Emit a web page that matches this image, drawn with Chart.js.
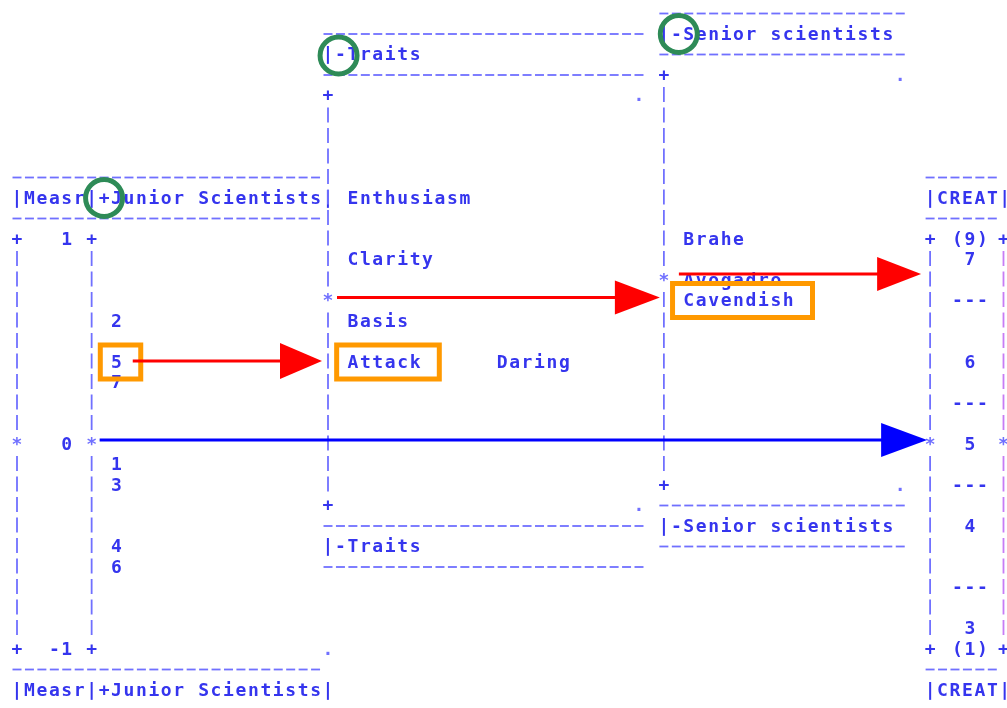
<!DOCTYPE html>
<html>
<head>
<meta charset="utf-8">
<script src="https://cdn.jsdelivr.net/npm/chart.js@4.4.0/dist/chart.umd.min.js"></script>
<style>
  body { margin: 0; background: #fff; }
  canvas { display: block; }
</style>
</head>
<body>
<canvas id="wrightMap" width="1007" height="708"></canvas>
<script>
// ---- data (logits) ----
const measrTicks = [1, 0, -1];
const juniorIds = ['1', '2', '3', '4', '5', '6', '7'];
const juniorMeasures = [-0.1, 0.6, -0.2, -0.5, 0.4, -0.6, 0.3];
const traitNames = ['Enthusiasm', 'Clarity', 'Basis', 'Attack', 'Daring'];
const traitMeasures = [0.5, 0.2, -0.1, -0.3, -0.3];
const seniorNames = ['Brahe', 'Avogadro', 'Cavendish'];
const seniorMeasures = [0.2, 0.0, -0.1];
const creatLabels = ['7', '6', '5', '4', '3'];
const creatMeasures = [0.9, 0.4, 0.0, -0.4, -0.9];
const creatThresholds = [0.7, 0.2, -0.2, -0.7];
const creatEnds = ['(9)', '(1)'];
const headerLeft = '|Measr|+Junior Scientists|';
const headerTraits = '|-Traits';
const headerSenior = '|-Senior scientists';
const headerCreat = '|CREAT|';

// ---- layout: x in character columns, y in logits (1 row = 0.1) ----
const COL0 = 17, COLW = 12.44;
const ZERO_Y = 443, PX_PER_LOGIT = 205;
const W = 1007, H = 708;
const TEXT_DY = 2;   // glyphs sit a bit low in their row

const panels = {
    left:   { from: 0,    to: 25,   shift: 0 },
    traits: { from: 25,   to: 50,   shift: 0.7 },
    senior: { from: 52,   to: 71,   shift: 0.8 },
    creat:  { from: 73.4, to: 79.3, shift: 0 }
};
const juniorCol = 8;
const traitCols = [27, 27, 27, 27, 39];
const seniorCol = 54;
const creatCol = 76.6;

const TEXT = '#3535ee';
const LINE = '#7070ff';
const FONT = 'bold 18px "DejaVu Sans Mono", "Liberation Mono", monospace';

function points(measures, cols, shift) {
    return measures.map((m, i) => ({ x: Array.isArray(cols) ? cols[i] : cols, y: m + shift }));
}

const wrightPlugin = {
    id: 'wrightPlugin',
    afterDatasetsDraw(chart) {
        const ctx = chart.ctx;
        const xs = chart.scales.x, ys = chart.scales.y;
        const px = c => xs.getPixelForValue(c);
        const py = (row, shift) => ys.getPixelForValue(shift + row / 10);

        ctx.save();
        ctx.font = FONT;
        ctx.textAlign = 'center';
        ctx.textBaseline = 'middle';

        function str(s, col, yy, color) {
            ctx.fillStyle = color || TEXT;
            for (let i = 0; i < s.length; i++) {
                if (s[i] !== ' ') ctx.fillText(s[i], px(col + i), yy + TEXT_DY);
            }
        }
        function dashes(from, to, yy) {
            ctx.strokeStyle = LINE;
            ctx.lineWidth = 1.8;
            for (let c = from; c <= to + 0.01; c++) {
                ctx.beginPath();
                ctx.moveTo(px(c) - 4.5, yy + 1);
                ctx.lineTo(px(c) + 4.5, yy + 1);
                ctx.stroke();
            }
        }
        function vline(col, shift, color) {
            for (let r = -10; r <= 10; r++) {
                const yy = py(r, shift);
                if (r === 10 || r === -10) {
                    str('+', col, yy, TEXT);
                } else if (r === 0) {
                    str('*', col, yy, LINE);
                } else {
                    ctx.strokeStyle = color || LINE;
                    ctx.lineWidth = 1.8;
                    ctx.beginPath();
                    ctx.moveTo(px(col), yy - 7.5);
                    ctx.lineTo(px(col), yy + 7.5);
                    ctx.stroke();
                }
            }
        }
        function header(p, title, lastDash) {
            const s = p.shift;
            dashes(p.from, lastDash, py(13, s));
            str(title, p.from, py(12, s));
            dashes(p.from, lastDash, py(11, s));
            dashes(p.from, lastDash, py(-11, s));
            str(title, p.from, py(-12, s));
            dashes(p.from, lastDash, py(-13, s));
        }

        // frames
        const L = panels.left, T = panels.traits, S = panels.senior, C = panels.creat;
        header(L, headerLeft, 24);
        vline(L.from, L.shift);
        vline(6, L.shift);
        str('.', 25, py(-10, 0), LINE);
        measrTicks.forEach(t => {
            const lab = String(t);
            str(lab, 4 - (lab.length - 1), py(t * 10, 0));
        });

        header(T, headerTraits, T.to);
        vline(T.from, T.shift);
        str('.', T.to, py(10, T.shift), LINE);
        str('.', T.to, py(-10, T.shift), LINE);

        header(S, headerSenior, S.to);
        vline(S.from, S.shift);
        str('.', S.to, py(10, S.shift), LINE);
        str('.', S.to, py(-10, S.shift), LINE);

        header(C, headerCreat, C.to);
        vline(C.from, C.shift);
        vline(C.to, C.shift, '#c77cf5');
        str(creatEnds[0], creatCol - 1, py(10, 0));
        str(creatEnds[1], creatCol - 1, py(-10, 0));
        creatThresholds.forEach(t => str('---', creatCol - 1, py(t * 10, 0)));

        // element labels placed by the chart's own scales
        chart.data.datasets.forEach((ds, i) => {
            chart.getDatasetMeta(i).data.forEach((el, j) => {
                str(ds.names[j], ds.data[j].x, el.y);
            });
        });

        // annotations: orange boxes
        const boxAround = (dsIndex, idx) => {
            const ds = chart.data.datasets[dsIndex];
            const el = chart.getDatasetMeta(dsIndex).data[idx];
            const left = px(ds.data[idx].x) - COLW / 2 - 10;
            const right = px(ds.data[idx].x + ds.names[idx].length - 1) + COLW / 2 + 18;
            ctx.strokeStyle = '#ff9900';
            ctx.lineWidth = 5;
            ctx.strokeRect(left, el.y - 16, right - left, 34);
            return { right, y: el.y };
        };
        const b5 = boxAround(0, juniorIds.indexOf('5'));
        boxAround(1, traitNames.indexOf('Attack'));
        boxAround(2, seniorNames.indexOf('Cavendish'));

        // arrows
        function arrow(x1, x2, yy, color, head, half) {
            ctx.strokeStyle = color;
            ctx.fillStyle = color;
            ctx.lineWidth = 3;
            ctx.beginPath();
            ctx.moveTo(x1, yy);
            ctx.lineTo(x2 - head + 2, yy);
            ctx.stroke();
            ctx.beginPath();
            ctx.moveTo(x2, yy);
            ctx.lineTo(x2 - head, yy - half);
            ctx.lineTo(x2 - head, yy + half);
            ctx.closePath();
            ctx.fill();
        }
        arrow(b5.right - 8, px(T.from) - 6, b5.y, '#ff0000', 42, 18);
        arrow(px(T.from) + 9, px(S.from) - 4, py(0, T.shift) - 2, '#ff0000', 45, 17);
        arrow(px(S.from) + 15, px(C.from) - 9, py(0, S.shift) - 5, '#ff0000', 44, 17);
        arrow(px(6) + 8, px(C.from) - 3, py(0, 0) - 3, '#0000ff', 46, 17);

        // annotations: green circles on the facet orientation signs
        ctx.strokeStyle = '#2e8b57';
        ctx.lineWidth = 5;
        [[7, py(12, L.shift) + 1], [T.from + 0.85, py(12, T.shift) + 2], [S.from + 1.2, py(12, S.shift) + 1]].forEach(([c, yy]) => {
            ctx.beginPath();
            ctx.arc(px(c), yy, 18.5, 0, Math.PI * 2);
            ctx.stroke();
        });
        ctx.restore();
    }
};

const ctx = document.getElementById('wrightMap').getContext('2d');
const wrightChart = new Chart(ctx, {
    type: 'scatter',
    data: {
        datasets: [
            { label: 'Junior Scientists', names: juniorIds, data: points(juniorMeasures, juniorCol, panels.left.shift) },
            { label: 'Traits', names: traitNames, data: points(traitMeasures, traitCols, panels.traits.shift) },
            { label: 'Senior scientists', names: seniorNames, data: points(seniorMeasures, seniorCol, panels.senior.shift) },
            { label: 'CREAT', names: creatLabels, data: points(creatMeasures, creatCol, panels.creat.shift) }
        ]
    },
    options: {
        responsive: false,
        animation: false,
        layout: { padding: 0 },
        elements: { point: { radius: 0, hoverRadius: 0 } },
        scales: {
            x: { type: 'linear', display: false, min: -COL0 / COLW, max: (W - COL0) / COLW },
            y: { type: 'linear', display: false, min: -(H - ZERO_Y) / PX_PER_LOGIT, max: ZERO_Y / PX_PER_LOGIT }
        },
        plugins: { legend: { display: false }, tooltip: { enabled: false } }
    },
    plugins: [wrightPlugin]
});
</script>
</body>
</html>
